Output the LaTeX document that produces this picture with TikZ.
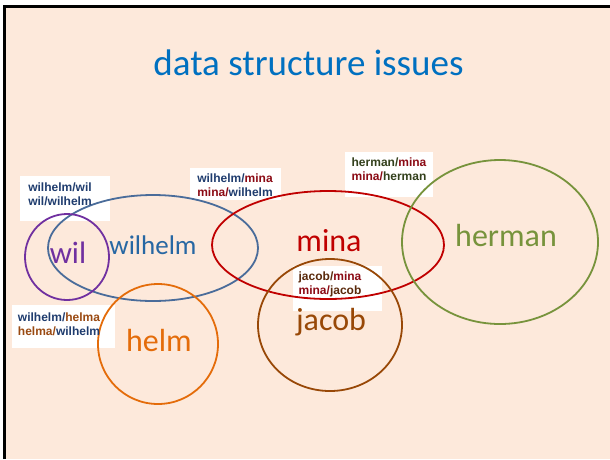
\documentclass[tikz,border=0pt]{standalone}
\usepackage{fontspec}
\setmainfont{Carlito}
\newfontfamily\pairfont{Liberation Sans}
\usepackage{tikz}
\usetikzlibrary{positioning, calc}

\definecolor{bgPeach}{HTML}{FDE9DB}
\definecolor{titleBlue}{HTML}{0070C0}
\definecolor{wilPurple}{HTML}{7030A0}
\definecolor{wilhelmLine}{HTML}{4A6C9A}
\definecolor{wilhelmText}{HTML}{2767A3}
\definecolor{wilhelmDark}{HTML}{1F3C6E}
\definecolor{minaRed}{HTML}{C00000}
\definecolor{minaDark}{HTML}{8B0A14}
\definecolor{hermanGreen}{HTML}{77933C}
\definecolor{hermanDark}{HTML}{33401C}
\definecolor{helmOrange}{HTML}{E46C0A}
\definecolor{helmaBrown}{HTML}{9A4A12}
\definecolor{jacobBrown}{HTML}{984807}
\definecolor{jacobDark}{HTML}{5A2A0C}

\tikzset{
    setLine/.style={
        line width=1.8pt
    },
    nameLabel/.style={
        font=\fontsize{32}{34}\selectfont,
        inner sep=0pt
    },
    pairBox/.style={
        fill=white,
        draw=none
    },
    pairText/.style={
        font=\pairfont\bfseries\fontsize{12}{14}\selectfont,
        align=center,
        inner sep=0pt
    }
}

\begin{document}
\begin{tikzpicture}[x=1pt, y=-1pt]

        % Page and frame
        \useasboundingbox (0,0) rectangle (610,459);
        \fill[bgPeach] (4.5,6.5) rectangle (610,459);
        \draw[line width=3pt] (4.5,459) -- (4.5,6.5) -- (610,6.5);

        % Title
        \node[font=\fontsize{37}{40}\selectfont, text=titleBlue] (title) at (308.5,63) {data structure issues};

        % White boxes behind the pair labels
        \fill[pairBox] (20,176) rectangle (110,221);
        \fill[pairBox] (190,168) rectangle (281,200);
        \fill[pairBox] (345,152) rectangle (433,197);
        \fill[pairBox] (293,266) rectangle (382,311);
        \fill[pairBox] (12,305) rectangle (115,348);

        % Sets
        \draw[setLine, wilhelmLine] (153,248) ellipse [x radius=105pt, y radius=53pt];
        \draw[setLine, wilPurple] (67,257) ellipse [x radius=42pt, y radius=43pt];
        \draw[setLine, minaRed] (328,245) ellipse [x radius=116pt, y radius=54pt];
        \draw[setLine, hermanGreen] (500,242) ellipse [x radius=98pt, y radius=82pt];
        \draw[setLine, helmOrange] (158,344) circle [radius=60pt];
        \draw[setLine, jacobBrown] (330,325) ellipse [x radius=72pt, y radius=66pt];

        % Set names
        \node[nameLabel, text=wilPurple, font=\fontsize{31}{33}\selectfont] (wil) at (68,253) {wil};
        \node[nameLabel, text=wilhelmText, font=\fontsize{27}{30}\selectfont] (wilhelm) at (153,245) {wilhelm};
        \node[nameLabel, text=minaRed] (mina) at (329,241) {mina};
        \node[nameLabel, text=hermanGreen] (herman) at (506,235) {herman};
        \node[nameLabel, text=helmOrange] (helm) at (159,340) {helm};
        \node[nameLabel, text=jacobBrown] (jacob) at (331,322) {jacob};

        % Pair labels
        \node[pairText] (pairWil) at (60,194)
            {\textcolor{wilhelmDark}{wilhelm/wil}\\\textcolor{wilhelmDark}{wil/wilhelm}};
        \node[pairText] (pairMina) at (235,185)
            {\textcolor{wilhelmDark}{wilhelm/}\textcolor{minaDark}{mina}\\\textcolor{minaDark}{mina/}\textcolor{wilhelmDark}{wilhelm}};
        \node[pairText] (pairHerman) at (389,169)
            {\textcolor{hermanDark}{herman/}\textcolor{minaDark}{mina}\\\textcolor{minaDark}{mina/}\textcolor{hermanDark}{herman}};
        \node[pairText] (pairJacob) at (330,284)
            {\textcolor{jacobDark}{jacob/}\textcolor{minaDark}{mina}\\\textcolor{minaDark}{mina/}\textcolor{jacobDark}{jacob}};
        \node[pairText] (pairHelm) at (59,324)
            {\textcolor{wilhelmDark}{wilhelm/}\textcolor{helmaBrown}{helma}\\\textcolor{helmaBrown}{helma/}\textcolor{wilhelmDark}{wilhelm}};

\end{tikzpicture}
\end{document}
